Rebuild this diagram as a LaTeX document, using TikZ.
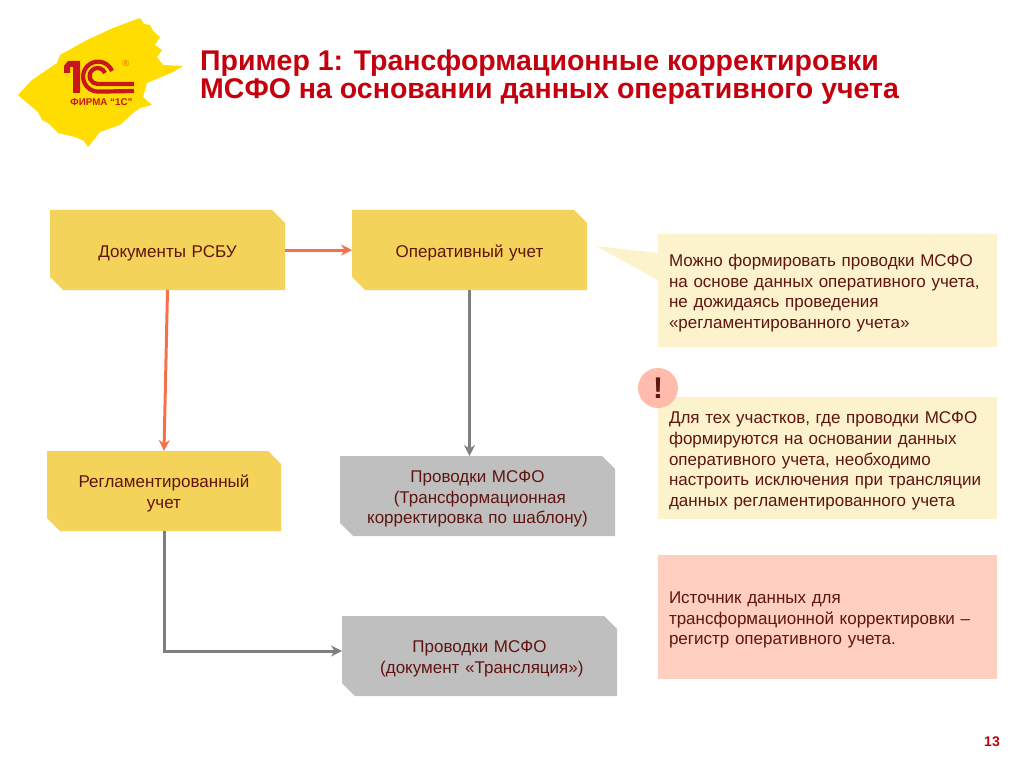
\documentclass[tikz,border=0pt]{standalone}
\usepackage{fontspec}
\setmainfont{Liberation Sans}
\usepackage{xcolor}
\usetikzlibrary{arrows.meta}

\definecolor{boxyellow}{HTML}{F3D35A}
\definecolor{boxgray}{HTML}{BFBFBF}
\definecolor{notecream}{HTML}{FCF3CC}
\definecolor{notepink}{HTML}{FFCFC1}
\definecolor{signpink}{HTML}{FFB5A3}
\definecolor{logoyellow}{HTML}{FFDD00}
\definecolor{logored}{HTML}{C8161D}
\definecolor{titlered}{HTML}{C4000E}
\definecolor{textbrown}{HTML}{5F1410}
\definecolor{arrorange}{HTML}{F4714C}
\definecolor{arrgray}{HTML}{7F7F7F}

\begin{document}
\begin{tikzpicture}[
  x=1pt, y=-1pt,
  every node/.style={font=\fontsize{17}{20.7}\selectfont, text=textbrown},
  textstrut/.style={execute at begin node={\rule{0pt}{19pt}},
    execute at end node={\rule[-5pt]{0pt}{5pt}}},
  flowbox/.style={rectangle, inner sep=0pt, outer sep=0pt, minimum height=80pt,
    text width=226pt, align=center, textstrut,
    path picture={\fill[#1] (path picture bounding box.north west)
      -- ([xshift=-13pt]path picture bounding box.north east)
      -- ([yshift=-13pt]path picture bounding box.north east)
      -- (path picture bounding box.south east)
      -- ([xshift=13pt]path picture bounding box.south west)
      -- ([yshift=13pt]path picture bounding box.south west) -- cycle;}},
  yellowbox/.style={flowbox=boxyellow, minimum width=235pt},
  graybox/.style={flowbox=boxgray, minimum width=275pt},
  notebox/.style={rectangle, inner sep=0pt, outer sep=0pt, minimum width=339pt,
    text width=317pt, align=left, textstrut},
  arr/.style={-{Stealth[length=11pt,width=11pt]}, line width=3pt},
  redarr/.style={arr, draw=arrorange},
  grayarr/.style={arr, draw=arrgray},
  logostripe/.style={draw=logored, line width=4.2pt},
]
\useasboundingbox (0,0) rectangle (1024,767);

% Logo
\fill[logoyellow] (140,18) -- (144,24) -- (150,25) -- (153,31) -- (160,37) -- (155,45) -- (162,50) -- (157,57)
  -- (163,65) -- (183,66) -- (173,72) -- (147,83) -- (143,97) -- (152,105) -- (140,108) -- (133,113)
  -- (120,125) -- (100,132) -- (88,147) -- (84,141) -- (75,137) -- (58,133) -- (48,123) -- (42,120) -- (38,112)
  -- (32,107) -- (18,95) -- (32,80) -- (57,63) -- (60,55) -- (87,40) -- (113,28) -- cycle;
\fill[logored] (64,66) -- (68,61) -- (80,61) -- (80,93) -- (73,93) -- (73,67) -- (70,67)
  -- (70,73) -- (64,73) -- cycle;
\draw[logostripe] (112,71) arc[start angle=-22, end angle=-270, radius=15] -- (134,91);
\draw[logostripe] (105,73) arc[start angle=-22, end angle=-270, radius=8] -- (134,84);
\node[font=\bfseries\fontsize{9.8}{11}\selectfont, text=logored] (logotext) at (101.5,102) {ФИРМА “1С”};
\node[font=\fontsize{9}{10}\selectfont, text=logored!60!logoyellow] (logomark) at (126,63) {®};

% Title
\node[anchor=north west, inner sep=0pt, align=left, text=titlered,
  font=\bfseries\fontsize{28.5}{28.5}\selectfont] (title) at (200,49.5)
  {Пример 1: Трансформационные корректировки\\МСФО на основании данных оперативного учета};

% Flow boxes
\node[yellowbox] (rsbu) at (167.5,250) {Документы РСБУ};
\node[yellowbox] (oper) at (469.5,250) {Оперативный учет};
\node[yellowbox, minimum width=234pt] (regl) at (164,491) {Регламентированный\\учет};
\node[graybox] (templ) at (477.5,496) {Проводки МСФО\\\hspace*{4.7pt}(Трансформационная\\корректировка по шаблону)};
\node[graybox] (transl) at (479.5,656) {Проводки МСФО\\\hspace*{4.7pt}(документ «Трансляция»)};

% Arrows
\draw[redarr] (rsbu.east) -- (oper.west);
\draw[redarr] (rsbu.south) -- (regl.north);
\draw[grayarr] (oper.south) -- (oper.south |- templ.north);
\draw[grayarr] (regl.south) |- ([yshift=5pt]transl.west);

% Notes
\fill[notecream] (596,246) -- (658,253) -- (658,280) -- cycle;
\node[notebox, fill=notecream, minimum height=113pt] (noteop) at (827.5,290.5)
  {Можно формировать проводки МСФО\\на основе данных оперативного учета,\\не дожидаясь проведения\\«регламентированного учета»};
\node[notebox, fill=notecream, minimum height=122pt] (noteexc) at (827.5,458)
  {Для тех участков, где проводки МСФО\\формируются на основании данных\\оперативного учета, необходимо\\настроить исключения при трансляции\\данных регламентированного учета};
\node[notebox, fill=notepink, minimum height=124pt] (notesrc) at (827.5,617)
  {Источник данных для\\трансформационной корректировки –\\регистр оперативного учета.};

% Warning sign and page number
\node[circle, fill=signpink, fill opacity=0.9, text opacity=1, minimum size=40pt, inner sep=0pt,
  font=\bfseries\fontsize{30}{30}\selectfont] (warn) at (658,388) {!};
\node[font=\bfseries\fontsize{14}{16}\selectfont, text=titlered] (pagenum) at (992,742) {13};

\end{tikzpicture}
\end{document}
